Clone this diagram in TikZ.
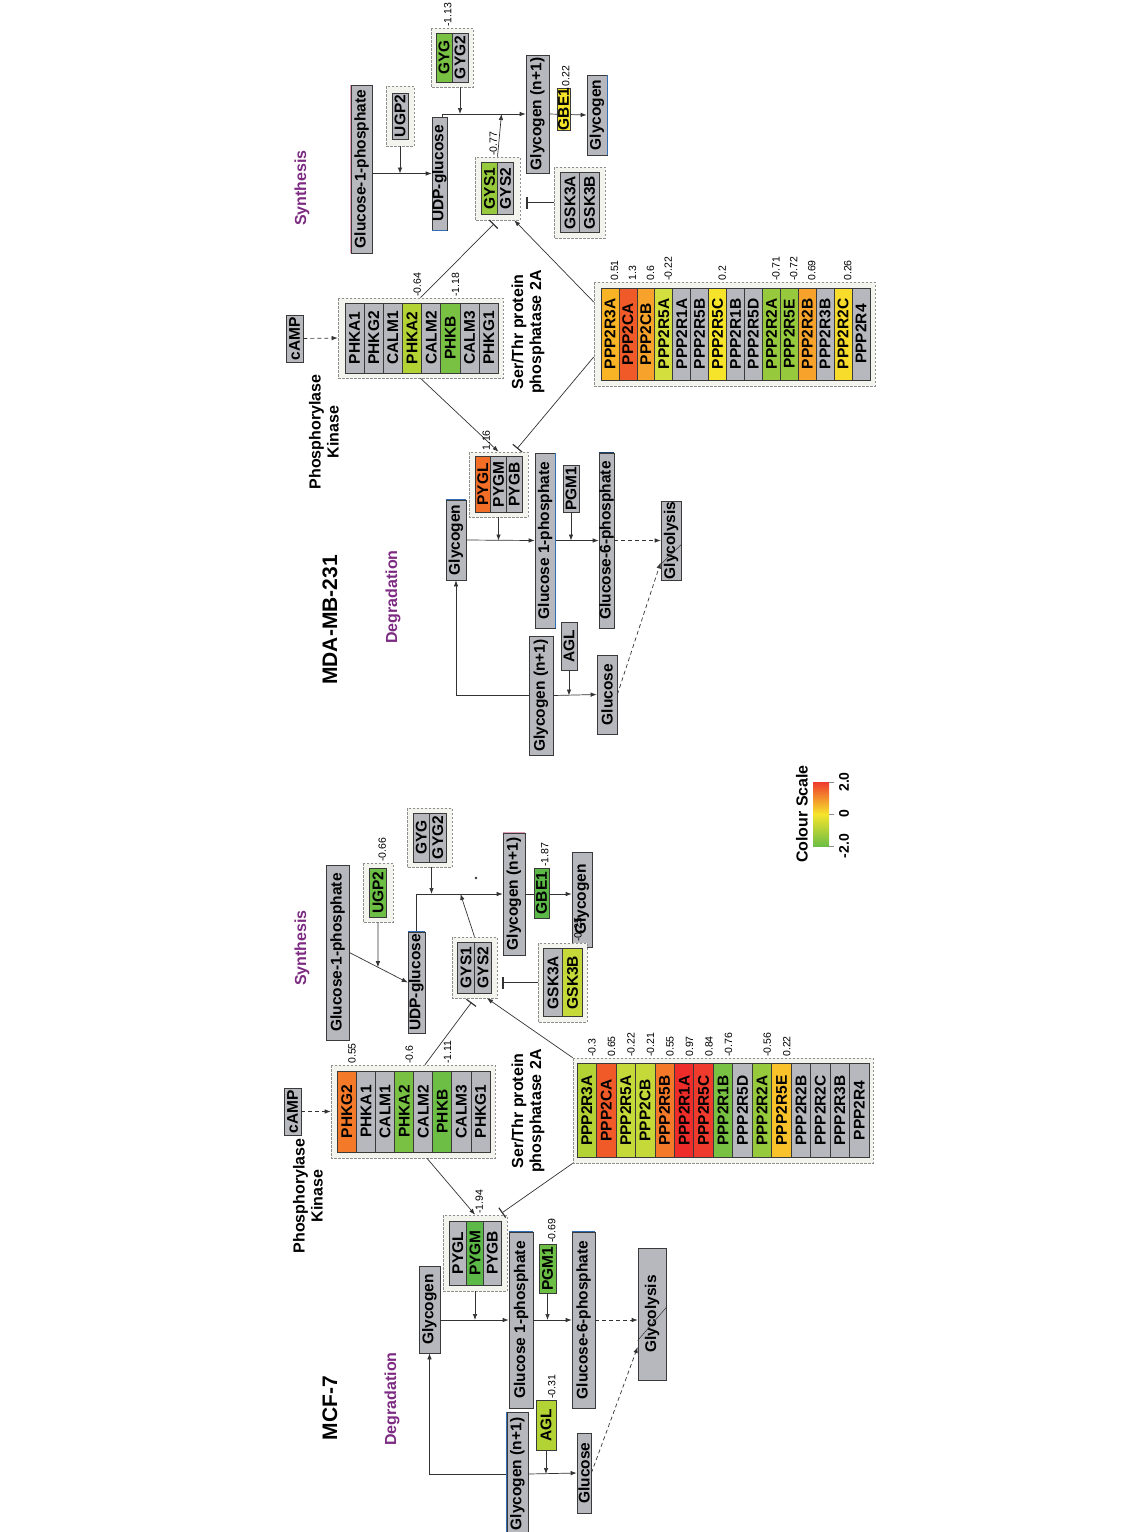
\documentclass[tikz,border=0pt]{standalone}
\usepackage{fontspec}
\setmainfont{Liberation Sans}
\usepackage{tikz}
\usetikzlibrary{arrows.meta}
\usetikzlibrary{calc}
\definecolor{boxgrey}{HTML}{B7B8BE}
\definecolor{boxline}{HTML}{3A3A3A}
\definecolor{groupfill}{HTML}{F4F4EF}
\definecolor{groupline}{HTML}{8E8E8E}
\definecolor{flowline}{HTML}{333333}
\definecolor{headcol}{HTML}{7D2B82}
\definecolor{rimblue}{HTML}{2F6DB5}
\definecolor{rimpink}{HTML}{E59AB5}
\definecolor{green1}{HTML}{5CB947}
\definecolor{green2}{HTML}{6DBE45}
\definecolor{green3}{HTML}{79C143}
\definecolor{green4}{HTML}{97C93D}
\definecolor{green5}{HTML}{B3D334}
\definecolor{green6}{HTML}{C5DA38}
\definecolor{green7}{HTML}{D3DF3D}
\definecolor{yellow1}{HTML}{F6E42B}
\definecolor{yellow2}{HTML}{F7DC2B}
\definecolor{yellow3}{HTML}{F9C22A}
\definecolor{orange1}{HTML}{F8B424}
\definecolor{orange2}{HTML}{F7A22A}
\definecolor{orange3}{HTML}{F47A29}
\definecolor{orange4}{HTML}{F26D26}
\definecolor{red1}{HTML}{F05A28}
\definecolor{red2}{HTML}{EF3B2E}
\definecolor{red3}{HTML}{EE2D2B}
\newcommand{\genefont}{\fontsize{15.5}{17}\selectfont\bfseries}
\newcommand{\valfont}{\fontsize{10.5}{12}\selectfont}
\newcommand{\labfont}{\fontsize{16}{18}\selectfont\bfseries}
\newcommand{\cellfont}{\fontsize{21}{25}\selectfont\bfseries}
\newcommand{\scalefont}{\fontsize{14}{16}\selectfont\bfseries}
\tikzset{
  gene/.style={rotate=90, draw=boxline, fill=boxgrey, line width=0.7pt, inner sep=0pt, font=\genefont},
  group/.style={rotate=90, draw=groupline, fill=groupfill, dash pattern=on 2.5pt off 1.5pt, line width=0.6pt, inner sep=0pt},
  val/.style={rotate=90, anchor=south west, inner sep=0.8pt, font=\valfont},
  heading/.style={rotate=90, font=\labfont, align=center},
  section/.style={heading, text=headcol},
  cellline/.style={heading, font=\cellfont},
  flow/.style={draw=flowline, line width=0.7pt, -{Latex[length=6pt,width=4.5pt]}},
  hint/.style={flow, dash pattern=on 4pt off 3pt},
  inhib/.style={draw=flowline, line width=0.7pt, -{Bar[width=12pt,line width=1.2pt]}},
  rim/.style={line width=1.3pt},
}
\begin{document}
\begin{tikzpicture}[x=1pt, y=-1pt]
\fill[white] (0,0) rectangle (1140,1532);
\useasboundingbox (0,0) rectangle (1140,1532);

% MDA-MB-231
\node[cellline] (mtitle) at (330,620) {MDA-MB-231};
\node[section] (mdeg) at (393,597) {Degradation};
\node[section] (msyn) at (302,188) {Synthesis};
\node[heading] (mkin) at (324,432) {Phosphorylase\\Kinase};
\node[heading] (mser) at (528,332) {Ser/Thr protein\\phosphatase 2A};

\node[gene, minimum width=168pt, minimum height=21pt] (mGonep) at (361.5,169) {Glucose-1-phosphate};
\node[group, minimum width=60pt, minimum height=28pt] (mUGPg) at (400,116) {};
\node[gene, minimum width=46pt, minimum height=16pt] (mUGP) at (400,116) {UGP2};
\node[gene, minimum width=113pt, minimum height=15pt] (mUDP) at (439.5,173.5) {UDP-glucose};
\node[group, minimum width=59pt, minimum height=42pt] (mGYGg) at (452,57.5) {};
\node[gene, fill=green3, minimum width=49pt, minimum height=16pt] (mGYG) at (444,57.5) {GYG};
\node[gene, minimum width=49pt, minimum height=16pt] (mGYG2) at (460,57.5) {GYG2};
\node[gene, minimum width=118pt, minimum height=23pt] (mGlyn) at (537.5,114) {Glycogen (n+1)};
\node[group, minimum width=63pt, minimum height=45pt] (mGYSg) at (497.5,188.5) {};
\node[gene, fill=green4, minimum width=52pt, minimum height=16pt] (mGYS1) at (489.5,188.5) {GYS1};
\node[gene, minimum width=52pt, minimum height=16pt] (mGYS2) at (505.5,188.5) {GYS2};
\node[group, minimum width=71pt, minimum height=51pt] (mGSKg) at (579.5,202.5) {};
\node[gene, minimum width=60pt, minimum height=19.5pt] (mGSKA) at (570,202.5) {GSK3A};
\node[gene, minimum width=60pt, minimum height=19.5pt] (mGSKB) at (589.5,202.5) {GSK3B};
\node[gene, minimum width=80pt, minimum height=20pt] (mGlyc) at (597,115) {Glycogen};

\node[gene, minimum width=47pt, minimum height=17pt] (mcamp) at (294.5,338.5) {cAMP};
\node[group, minimum width=80pt, minimum height=165pt] (mphk) at (420.5,338) {};
\foreach \g/\c [count=\i] in {PHKA1/boxgrey,PHKG2/boxgrey,CALM1/boxgrey,PHKA2/green5,CALM2/boxgrey,PHKB/green3,CALM3/boxgrey,PHKG1/boxgrey}
  \node[gene, fill=\c, minimum width=70pt, minimum height=19.16pt] (mphk\i) at ({345+(\i-0.5)*19.16},338) {\g};

\node[group, minimum width=104pt, minimum height=281pt] (mpp) at (734.5,334) {};
\foreach \g/\c [count=\i] in {PPP2R3A/orange1,PPP2CA/red1,PPP2CB/orange2,PPP2R5A/green7,PPP2R1A/boxgrey,PPP2R5B/boxgrey,PPP2R5C/yellow1,PPP2R1B/boxgrey,PPP2R5D/boxgrey,PPP2R2A/green4,PPP2R5E/green4,PPP2R2B/orange2,PPP2R3B/boxgrey,PPP2R2C/yellow2,PPP2R4/boxgrey}
  \node[gene, fill=\c, minimum width=92pt, minimum height=17.93pt] (mpp\i) at ({601+(\i-0.5)*17.93},334) {\g};

\node[gene, minimum width=80pt, minimum height=20pt] (mGlycogen) at (456,540) {Glycogen};
\node[group, minimum width=65pt, minimum height=59pt] (mPYGg) at (498.5,484.5) {};
\foreach \g/\c [count=\i] in {PYGL/orange4,PYGM/boxgrey,PYGB/boxgrey}
  \node[gene, fill=\c, minimum width=56pt, minimum height=15.7pt] (mPYG\i) at ({475+(\i-0.5)*15.7},484.5) {\g};
\node[gene, minimum width=175pt, minimum height=20pt] (mG1P) at (545,540.5) {Glucose 1-phosphate};
\node[gene, minimum width=47pt, minimum height=16pt] (mPGM) at (571,488.5) {PGM1};
\node[gene, minimum width=175pt, minimum height=15pt] (mG6P) at (606.5,540.5) {Glucose-6-phosphate};
\node[gene, minimum width=79pt, minimum height=20pt] (mGlycol) at (671,540.5) {Glycolysis};
\node[gene, minimum width=119pt, minimum height=24pt] (mGlyn2) at (541,695.5) {Glycogen (n+1)};
\node[gene, minimum width=48pt, minimum height=16pt] (mAGL) at (569,646) {AGL};
\node[gene, minimum width=79pt, minimum height=20pt] (mGlucose) at (607,694.5) {Glucose};

\draw[flow] (mGonep.south |- mUDP.north) -- (mUDP.north);
\draw[flow] (mUGPg.west) -- (mUGPg.west |- mUDP.north);
\draw[flow] ([xshift=3pt]mUDP.east) |- (mGlyn.north);
\draw[flow] (mGYG2.west |- mGYGg.west) -- (mGYG2.west |- mGlyn.north);
\draw[flow] (mGYSg.east) -- ([xshift=4pt]mGYSg.east |- mGlyn.north);
\draw[flow] (mGlyn.south) -- (mGlyc.north);
\draw[inhib, shorten >=6pt] (mGSKg.north) -- (mGSKg.north -| mGYSg.south);
\draw[hint] (mcamp.south) -- (mphk.north);
\draw[inhib, shorten >=5pt] (mphk.east) -- (mGYSg.west);
\draw[flow] (mphk.west) -- (mPYGg.east);
\draw[flow] ($(mpp.north)+(0,-32)$) -- ([xshift=-6pt]mGYSg.south west);
\draw[inhib, shorten >=4pt] ($(mpp.north)+(0,23)$) -- ([xshift=16pt]mPYGg.east);
\draw[flow] (mGlycogen.south) -- (mG1P.north);
\draw[flow] (mPYGg.west) -- (mPYGg.west |- mG1P.north);
\draw[flow] (mG1P.south) -- (mG6P.north);
\draw[flow] (mPGM.west) -- (mPGM.west |- mG1P.south);
\draw[hint] (mG6P.south) -- (mGlycol.north);
\draw[flow] (mGlyn2.north) -| (mGlycogen.west);
\draw[flow] (mGlyn2.south) -- (mGlucose.north);
\draw[flow] (mAGL.west) -- (mAGL.west |- mGlyn2.south);
\draw[hint] (mGlucose.south) -- ($(mGlycol.north)+(0,22)$);

\node[gene, fill=yellow1, minimum width=41pt, minimum height=13pt] (mGBE) at (563.5,109) {GBE1};

\draw[rim, rimpink] (mGonep.north west) -- (mGonep.north east);
\draw[rim, rimblue] (mUDP.north west) -- (mUDP.south west);
\draw[rim, rimblue] (mGlyc.south west) -- (mGlyc.south east);
\draw[rim, rimblue] (mGlycogen.north east) -- (mGlycogen.south east);
\draw[rim, rimblue] (mG1P.south west) -- (mG1P.south east);
\draw[rim, rimblue!60!black] (mG6P.north east) -- (mG6P.south east);
\draw[flowline, line width=0.5pt] ($(mGlycol.north west)!0.2!(mGlycol.north east)$) -- ($(mGlycol.south west)!0.45!(mGlycol.south east)$);

\node[val] (mvGYG) at (mGYG.south east |- mGYGg.east) {-1.13};
\node[val] (mvGYS) at (mGYS1.south east |- mGYSg.east) {-0.77};
\node[val] (mvGBE) at (mGBE.south east) {0.22};
\node[val] (mvPYG) at (mPYG1.south east |- mPYGg.east) {1.16};
\foreach \i/\v in {4/-0.64,6/-1.18}
  \node[val] (mvphk\i) at (mphk\i.south east |- mphk.east) {\v};
\foreach \i/\v in {1/0.51,2/1.3,3/0.6,4/-0.22,7/0.2,10/-0.71,11/-0.72,12/0.69,14/0.26}
  \node[val] (mvpp\i) at (mpp\i.south east |- mpp.east) {\v};

% MCF-7
\node[cellline] (ftitle) at (330,1408) {MCF-7};
\node[section] (fdeg) at (392,1399) {Degradation};
\node[section] (fsyn) at (302,948) {Synthesis};
\node[heading] (fkin) at (308,1196) {Phosphorylase\\Kinase};
\node[heading] (fser) at (528,1111) {Ser/Thr protein\\phosphatase 2A};

\node[gene, minimum width=175pt, minimum height=23pt] (fGonep) at (337.5,952.5) {Glucose-1-phosphate};
\node[group, minimum width=59pt, minimum height=30pt] (fUGPg) at (378,892.5) {};
\node[gene, fill=green2, minimum width=49pt, minimum height=17pt] (fUGP) at (378,892.5) {UGP2};
\node[gene, minimum width=101pt, minimum height=17pt] (fUDP) at (416.5,982.5) {UDP-glucose};
\node[group, minimum width=59pt, minimum height=45pt] (fGYGg) at (429.5,837.5) {};
\node[gene, minimum width=49pt, minimum height=16.5pt] (fGYG) at (421.25,837.5) {GYG};
\node[gene, minimum width=49pt, minimum height=16.5pt] (fGYG2) at (437.75,837.5) {GYG2};
\node[gene, minimum width=122pt, minimum height=22pt] (fGlyn) at (514,894) {Glycogen (n+1)};
\node[group, minimum width=61pt, minimum height=45pt] (fGYSg) at (474.5,967.5) {};
\node[gene, minimum width=51pt, minimum height=17pt] (fGYS1) at (466,967.5) {GYS1};
\node[gene, minimum width=51pt, minimum height=17pt] (fGYS2) at (483,967.5) {GYS2};
\node[gene, minimum width=95pt, minimum height=20pt] (fGlyc) at (582,899.5) {Glycogen};
\node[group, minimum width=79pt, minimum height=49pt] (fGSKg) at (562.5,982.5) {};
\node[gene, minimum width=68pt, minimum height=19.5pt] (fGSKA) at (553,982.5) {GSK3A};
\node[gene, fill=green6, minimum width=68pt, minimum height=19.5pt] (fGSKB) at (572.5,982.5) {GSK3B};

\node[gene, minimum width=47pt, minimum height=17pt] (fcamp) at (292.5,1111.5) {cAMP};
\node[group, minimum width=93pt, minimum height=164pt] (fphk) at (413,1111.5) {};
\foreach \g/\c [count=\i] in {PHKG2/orange3,PHKA1/boxgrey,CALM1/boxgrey,PHKA2/green3,CALM2/boxgrey,PHKB/green2,CALM3/boxgrey,PHKG1/boxgrey}
  \node[gene, fill=\c, minimum width=81pt, minimum height=19.09pt] (fphk\i) at ({337.3+(\i-0.5)*19.09},1111.5) {\g};

\node[group, minimum width=105pt, minimum height=300pt] (fpp) at (723,1110.5) {};
\foreach \g/\c [count=\i] in {PPP2R3A/green5,PPP2CA/red1,PPP2R5A/green6,PPP2CB/green6,PPP2R5B/orange3,PPP2R1A/red3,PPP2R5C/red2,PPP2R1B/green3,PPP2R5D/boxgrey,PPP2R2A/green4,PPP2R5E/yellow3,PPP2R2B/boxgrey,PPP2R2C/boxgrey,PPP2R3B/boxgrey,PPP2R4/boxgrey}
  \node[gene, fill=\c, minimum width=94pt, minimum height=19.47pt] (fpp\i) at ({577+(\i-0.5)*19.47},1110.5) {\g};

\node[gene, minimum width=87pt, minimum height=21pt] (fGlycogen) at (429.5,1309.5) {Glycogen};
\node[group, minimum width=76pt, minimum height=64pt] (fPYGg) at (475,1253) {};
\foreach \g/\c [count=\i] in {PYGL/boxgrey,PYGM/green1,PYGB/boxgrey}
  \node[gene, fill=\c, minimum width=64pt, minimum height=17.33pt] (fPYG\i) at ({449+(\i-0.5)*17.33},1253) {\g};
\node[gene, minimum width=176pt, minimum height=24pt] (fG1P) at (521,1320) {Glucose 1-phosphate};
\node[gene, fill=green2, minimum width=49pt, minimum height=17pt] (fPGM) at (547.5,1268.5) {PGM1};
\node[gene, minimum width=176pt, minimum height=23pt] (fG6P) at (583.5,1320) {Glucose-6-phosphate};
\node[gene, minimum width=132pt, minimum height=28pt] (fGlycol) at (652,1314) {Glycolysis};
\node[gene, minimum width=124pt, minimum height=21pt] (fGlyn2) at (517.5,1474) {Glycogen (n+1)};
\node[gene, fill=green5, minimum width=50pt, minimum height=20pt] (fAGL) at (546,1425) {AGL};
\node[gene, minimum width=80pt, minimum height=14pt] (fGlucose) at (584,1473) {Glucose};

\draw[flow] (fGonep.south) -- (fUDP.north);
\draw[flow] (fUGPg.west) -- ($(fGonep.south)!0.49!(fUDP.north)$);
\draw[flow] (fUDP.east) |- (fGlyn.north);
\draw[flow] ([xshift=2pt]fGYGg.west) -- ([xshift=2pt]fGYGg.west |- fGlyn.north);
\draw[flow] (fGYSg.east) -- ([xshift=-14pt]fGYSg.east |- fGlyn.north);
\draw[flow] (fGlyn.south) -- (fGlyn.south -| fGlyc.north);
\draw[inhib, shorten >=5pt] (fGSKg.north) -- (fGSKg.north -| fGYSg.south);
\draw[hint] (fcamp.south) -- (fphk.north);
\draw[inhib, shorten >=5pt] ([xshift=12pt]fphk.east) -- (fGYSg.west);
\draw[flow] ([xshift=14pt]fphk.west) -- (fPYGg.east);
\draw[flow] (fpp.north east) -- ([xshift=12.5pt]fGYSg.west);
\draw[inhib, shorten >=3pt] (fpp.north west) -- ([xshift=-8pt]fPYGg.south east);
\draw[flow] (fG1P.north -| fGlycogen.south) -- (fG1P.north);
\draw[flow] (fPYGg.west) -- (fPYGg.west |- fG1P.north);
\draw[flow] (fG1P.south) -- (fG6P.north);
\draw[flow] (fPGM.west) -- (fPGM.west |- fG1P.south);
\draw[hint] (fG6P.south) -- (fG6P.south -| fGlycol.north);
\draw[flow] (fGlyn2.north) -| (fGlycogen.west);
\draw[flow] (fGlyn2.south) -- (fGlucose.north);
\draw[flow] (fAGL.west) -- (fAGL.west |- fGlyn2.south);
\draw[hint] (fGlucose.south) -- ($(fGlycol.north)+(0,33)$);

\node[gene, fill=green1, minimum width=50pt, minimum height=15pt] (fGBE) at (541.5,893) {GBE1};
\fill[flowline] (476,878) circle (1.3pt);

\draw[rim, rimblue] (fUDP.north east) -- (fUDP.south east);
\draw[rim, rimpink] (fGlyn.north east) -- (fGlyn.south east);
\draw[rim, rimblue] (fG1P.north east) -- (fG1P.south east);
\draw[rim, rimblue] (fG6P.north east) -- (fG6P.south east);
\draw[rim, rimblue] (fGlyn2.north west) -- (fGlyn2.north east);
\draw[flowline, line width=0.5pt] ($(fGlycol.north west)!0.3!(fGlycol.north east)$) -- ($(fGlycol.south west)!0.55!(fGlycol.south east)$);

\node[val] (fvUGP) at (fUGP.south east |- fUGPg.east) {-0.66};
\node[val] (fvGBE) at (fGBE.south east) {-1.87};
\node[val] (fvGSK) at (fGSKB.south east |- fGSKg.east) {-0.25};
\node[val] (fvPYG) at (fPYG2.south east |- fPYGg.east) {-1.94};
\node[val] (fvPGM) at (fPGM.south east) {-0.69};
\node[val] (fvAGL) at (fAGL.south east) {-0.31};
\foreach \i/\v in {1/0.55,4/-0.6,6/-1.11}
  \node[val] (fvphk\i) at (fphk\i.south east |- fphk.east) {\v};
\foreach \i/\v in {1/-0.3,2/0.65,3/-0.22,4/-0.21,5/0.55,6/0.97,7/0.84,8/-0.76,10/-0.56,11/0.22}
  \node[val] (fvpp\i) at (fpp\i.south east |- fpp.east) {\v};

% colour scale
\node[heading] (scalename) at (802,814) {Colour Scale};
\shade[top color=red2, bottom color=green2, middle color=yellow1] (813,782) rectangle (829,846);
\foreach \y/\t [count=\i] in {782/2.0,814/0,846/-2.0}{
  \draw[groupline, line width=0.8pt] (829,\y) -- (834,\y);
  \node[rotate=90, font=\scalefont] (scaletick\i) at (844,\y) {\t};
}
\end{tikzpicture}
\end{document}
